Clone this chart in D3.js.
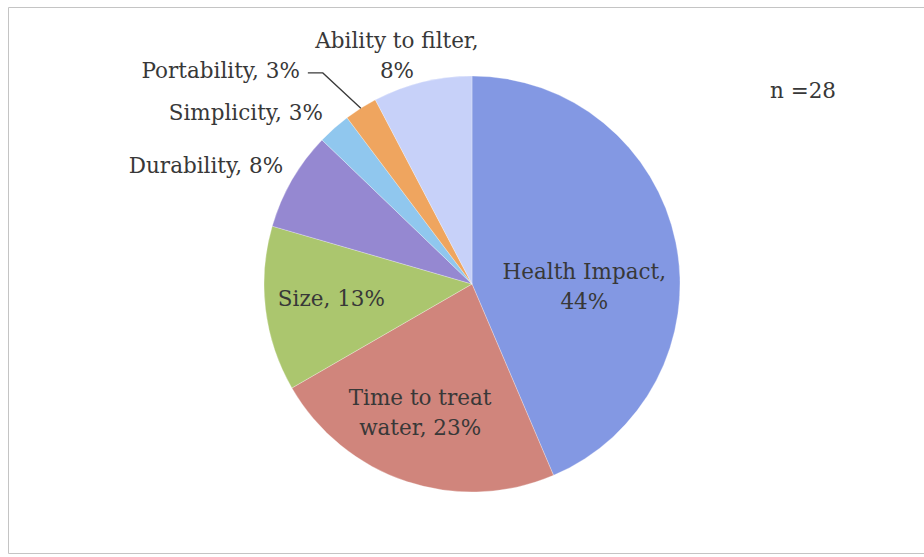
<!DOCTYPE html>
<html>
<head>
<meta charset="utf-8">
<script src="https://cdn.jsdelivr.net/npm/d3@7"></script>
<style>
  body { margin: 0; background: #fff; overflow: hidden; }
  text { font-family: "DejaVu Serif", serif; fill: #383838; }
</style>
</head>
<body>
<div id="chart"></div>
<script>
// survey answers, n = 28 respondents (multiple answers allowed)
const categories = ["Health Impact", "Time to treat water", "Size", "Durability",
                    "Simplicity", "Portability", "Ability to filter"];
const counts = [17, 9, 5, 3, 1, 1, 3];
const colors = ["#8398e3", "#d0857c", "#abc66e", "#9588d1", "#90c7ee", "#efa55f", "#c7d1f9"];
const respondents = 28;

const svgWidth = 924;
const svgHeight = 557;
const cx = 472, cy = 284, radius = 208;
const fontSize = 21.5;
const lineHeight = 30;

// where each label sits: radius factor, angle shift from slice middle (deg), wrap width
const labelLayout = [
  { k: 0.54, shift: 13,   anchor: "middle", wrap: 180 },
  { k: 0.67, shift: 3.4,  anchor: "middle", wrap: 165 },
  { k: 0.68, shift: 0.7,  anchor: "middle", wrap: 250 },
  { k: 1.07, shift: 1.9,  anchor: "end",    wrap: 300 },
  { k: 1.09, shift: 0.4,  anchor: "end",    wrap: 300 },
  { k: 1.315, shift: -6.7, anchor: "end",   wrap: 300, leader: true },
  { k: 1.152, shift: -4.4, anchor: "middle", wrap: 185 }
];

const total = d3.sum(counts);
const data = categories.map((c, i) => ({
  name: c, value: counts[i], color: colors[i],
  pct: Math.round(counts[i] / total * 100)
}));

const svg = d3.select("#chart")
  .append("svg")
  .attr("width", svgWidth)
  .attr("height", svgHeight)
  .style("display", "block");

// chart frame (right side runs off the page)
svg.append("path")
  .attr("d", `M${svgWidth},7.5 H8.5 V553.5 H${svgWidth}`)
  .attr("fill", "none")
  .attr("stroke", "#c4c4c4")
  .attr("stroke-width", 1);

const pie = d3.pie().sort(null).value(d => d.value);
const arc = d3.arc().innerRadius(0).outerRadius(radius);
const arcs = pie(data);

const chartGroup = svg.append("g")
  .attr("transform", `translate(${cx}, ${cy})`);

chartGroup.selectAll("path")
  .data(arcs)
  .enter()
  .append("path")
  .attr("d", arc)
  .attr("fill", d => d.data.color)
  .attr("stroke", "#ffffff")
  .attr("stroke-opacity", 0.35)
  .attr("stroke-width", 0.8);

function polar(angle, r) {
  return [Math.sin(angle) * r, -Math.cos(angle) * r];
}

chartGroup.selectAll("text.slice")
  .data(arcs)
  .enter()
  .append("text")
  .attr("class", "slice")
  .attr("font-size", fontSize)
  .attr("text-anchor", (d, i) => labelLayout[i].anchor)
  .each(function(d, i) {
    const lay = labelLayout[i];
    const mid = (d.startAngle + d.endAngle) / 2 + lay.shift * Math.PI / 180;
    const [x, y] = polar(mid, radius * lay.k);
    const el = d3.select(this);
    // wrap words
    const words = `${d.data.name}, ${d.data.pct}%`.split(" ");
    const lines = [];
    let line = [];
    const probe = el.append("tspan");
    words.forEach(w => {
      line.push(w);
      probe.text(line.join(" "));
      if (probe.node().getComputedTextLength() > lay.wrap && line.length > 1) {
        line.pop();
        lines.push(line.join(" "));
        line = [w];
      }
    });
    lines.push(line.join(" "));
    probe.remove();
    const y0 = y - (lines.length - 1) / 2 * lineHeight;
    lines.forEach((t, j) => {
      el.append("tspan")
        .attr("x", x)
        .attr("y", y0 + j * lineHeight)
        .attr("dy", "0.31em")
        .text(t);
    });
    if (lay.leader) {
      const [ex, ey] = polar((d.startAngle + d.endAngle) / 2, radius);
      const pts = [[x + 8, y + 1.5], [x + 23, y + 1.5], [ex, ey]];
      chartGroup.append("path")
        .attr("d", d3.line()(pts))
        .attr("fill", "none")
        .attr("stroke", "#3a3a3a")
        .attr("stroke-width", 1.3);
    }
  });

svg.append("text")
  .attr("x", 803)
  .attr("y", 98)
  .attr("text-anchor", "middle")
  .attr("font-size", fontSize)
  .text(`n =${respondents}`);
</script>
</body>
</html>
